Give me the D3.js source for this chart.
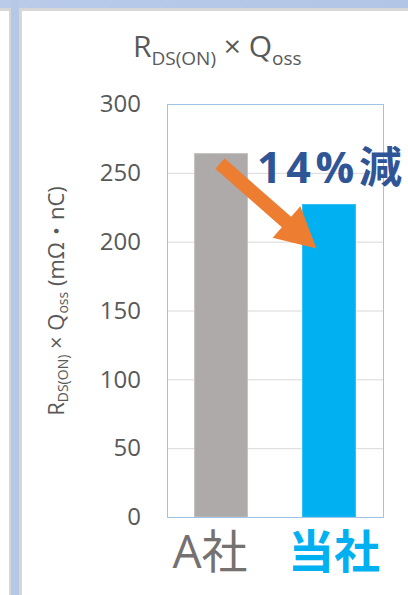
<!DOCTYPE html>
<html>
<head>
<meta charset="utf-8">
<script src="https://cdn.jsdelivr.net/npm/d3@7"></script>
<style>
  html, body { margin: 0; padding: 0; background: #fff; }
  svg { display: block; }
  text { font-family: "Open Sans", "Noto Sans CJK JP", sans-serif; }
</style>
</head>
<body>
<script>
// Chart data
const categories = ["A社", "当社"];
const values = [264, 227];
const yTicks = [0, 50, 100, 150, 200, 250, 300];
const reductionLabel = "14%減";

const W = 408, H = 595;
const plot = { left: 167, right: 383, top: 104, bottom: 517 };

const svg = d3.select("body").append("svg")
  .attr("width", W).attr("height", H);

// Window frame: top band and left pane divider
svg.append("rect").attr("x", 0).attr("y", 8).attr("width", W).attr("height", 3).attr("fill", "#d6d6d6");
svg.append("rect").attr("x", 9).attr("y", 8).attr("width", 13).attr("height", H).attr("fill", "#d6d6d6");
const bandGrad = svg.append("defs").append("linearGradient").attr("id", "band")
  .attr("x1", 0).attr("x2", 1).attr("y1", 0).attr("y2", 0);
bandGrad.append("stop").attr("offset", 0).attr("stop-color", "#b9cbe9");
bandGrad.append("stop").attr("offset", 1).attr("stop-color", "#b2c5e6");
svg.append("rect").attr("x", 0).attr("y", 0).attr("width", W).attr("height", 8).attr("fill", "url(#band)");
svg.append("rect").attr("x", 11).attr("y", 0).attr("width", 8).attr("height", H).attr("fill", "#b6c8e8");

// Scales
const x = d3.scaleBand().domain(categories)
  .range([plot.left, plot.right]).paddingInner(0.51).paddingOuter(0.255);
const y = d3.scaleLinear().domain([0, 300]).range([plot.bottom, plot.top]);

// Gridlines
svg.append("g").selectAll("line").data(yTicks.filter(t => t > 0 && t < 300)).join("line")
  .attr("x1", plot.left).attr("x2", plot.right)
  .attr("y1", d => y(d) + 0.5).attr("y2", d => y(d) + 0.5)
  .attr("stroke", "#d9d9d9").attr("stroke-width", 1);

// Y axis tick labels
const yAxis = svg.append("g").attr("transform", `translate(${plot.left},0)`)
  .call(d3.axisLeft(y).tickValues(yTicks).tickSize(0).tickPadding(26));
yAxis.select(".domain").remove();
yAxis.selectAll("text")
  .attr("font-family", "'Open Sans', sans-serif")
  .attr("font-size", 24).attr("fill", "#595959");

// Bars
const barColors = ["#aeaaaa", "#00b0f0"];
const barEdges = ["#c4c1c1", "#33c0f3"];
svg.append("g").selectAll("rect").data(values).join("rect")
  .attr("x", (d, i) => x(categories[i]))
  .attr("y", d => y(d))
  .attr("width", x.bandwidth())
  .attr("height", d => y(0) - y(d))
  .attr("fill", (d, i) => barColors[i])
  .attr("stroke", (d, i) => barEdges[i]).attr("stroke-width", 1);

// Plot area border
svg.append("rect")
  .attr("x", plot.left + 0.5).attr("y", plot.top + 0.5)
  .attr("width", plot.right - plot.left).attr("height", plot.bottom - plot.top)
  .attr("fill", "none").attr("stroke", "#9dc3e6").attr("stroke-width", 1);

// Category labels
const catStyle = [
  { fill: "#767171", weight: 400, dx: -11 },
  { fill: "#00b0f0", weight: 700, dx: 5 }
];
svg.append("g").selectAll("text").data(categories).join("text")
  .attr("x", (d, i) => x(d) + x.bandwidth() / 2 + catStyle[i].dx)
  .attr("y", 568)
  .attr("text-anchor", "middle")
  .attr("font-family", "'Open Sans', 'Noto Sans CJK JP', sans-serif")
  .attr("font-size", 46)
  .attr("font-weight", (d, i) => catStyle[i].weight)
  .attr("fill", (d, i) => catStyle[i].fill)
  .text(d => d);

// Chart title
const title = svg.append("text").attr("x", 133).attr("y", 57)
  .attr("fill", "#595959").attr("font-size", 30);
title.append("tspan").text("R");
title.append("tspan").attr("font-size", 19).attr("dy", 8).text("DS(ON)");
title.append("tspan").attr("dy", -8).text(" × Q");
title.append("tspan").attr("font-size", 19).attr("dy", 8).text("oss");

// Y axis title
const yTitle = svg.append("text")
  .attr("transform", `translate(64,301) rotate(-90)`)
  .attr("text-anchor", "middle")
  .attr("fill", "#595959").attr("font-size", 22);
yTitle.append("tspan").text("R");
yTitle.append("tspan").attr("font-size", 14).attr("dy", 4).text("DS(ON)");
yTitle.append("tspan").attr("dy", -4).text(" × Q");
yTitle.append("tspan").attr("font-size", 14).attr("dy", 4).text("oss");
yTitle.append("tspan").attr("dy", -4).text(" (mΩ・nC)");

// Reduction arrow from the A社 bar top down to the 当社 bar
const tail = [x(categories[0]) + x.bandwidth() / 2 - 1, y(values[0]) + 10];
const tip = [x(categories[1]) + 14, y(values[1]) + 44];
const shaftW = 14, headW = 42, headL = 40;
const len = Math.hypot(tip[0] - tail[0], tip[1] - tail[1]);
const ux = (tip[0] - tail[0]) / len, uy = (tip[1] - tail[1]) / len;
const px = -uy, py = ux;
const base = [tip[0] - ux * headL, tip[1] - uy * headL];
const pt = (p, s) => [p[0] + px * s, p[1] + py * s];
const arrowPts = [
  pt(tail, shaftW / 2), pt(base, shaftW / 2), pt(base, headW / 2), tip,
  pt(base, -headW / 2), pt(base, -shaftW / 2), pt(tail, -shaftW / 2)
];
svg.append("path")
  .attr("d", d3.line()(arrowPts) + "Z")
  .attr("fill", "#ed7d31");

// Reduction label
svg.append("text")
  .attr("x", 257).attr("y", 183)
  .attr("font-family", "'Noto Sans CJK JP', sans-serif")
  .attr("font-size", 43).attr("font-weight", 700)
  .attr("fill", "#2f5597")
  .attr("textLength", 145).attr("lengthAdjust", "spacing")
  .text(reductionLabel);
</script>
</body>
</html>
